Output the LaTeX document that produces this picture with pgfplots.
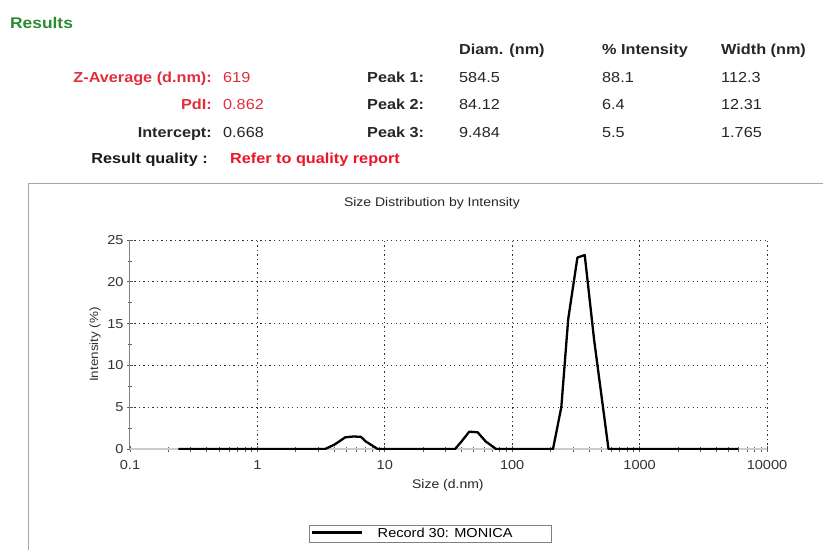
\documentclass[border=0pt]{standalone}
\usepackage{fontspec}
\setmainfont{Liberation Sans}[FakeStretch=1.12]
\usepackage{pgfplots}
\pgfplotsset{compat=1.18}
\definecolor{resgreen}{RGB}{40,140,50}
\definecolor{zred}{RGB}{225,45,60}
\definecolor{qred}{RGB}{235,20,40}
\newcommand\fs[1]{\fontsize{#1}{#1}\selectfont}
\begin{document}
\begin{tikzpicture}
\useasboundingbox (0pt,0pt) rectangle (823pt,-550pt);
\fill[white] (0pt,0pt) rectangle (823pt,-550pt);
\begin{scope}[every node/.style={inner sep=0pt}]
\node[anchor=base west, text=resgreen, font=\bfseries\fs{15.5}] at (10pt,-28pt) {Results};
% headers
\node[anchor=base west, font=\bfseries\fs{14.5}, text=black!85] at (459pt,-54pt) {Diam. (nm)};
\node[anchor=base west, font=\bfseries\fs{14.5}, text=black!85] at (602pt,-54pt) {\% Intensity};
\node[anchor=base west, font=\bfseries\fs{14.5}, text=black!85] at (721pt,-54pt) {Width (nm)};
% left block
\node[anchor=base east, font=\bfseries\fs{14.5}, text=zred] at (212pt,-82pt) {Z-Average (d.nm):};
\node[anchor=base east, font=\bfseries\fs{14.5}, text=zred] at (212pt,-109pt) {PdI:};
\node[anchor=base east, font=\bfseries\fs{14.5}, text=black!85] at (212pt,-137pt) {Intercept:};
\node[anchor=base east, font=\bfseries\fs{14.5}, text=black!90] at (208pt,-163pt) {Result quality :};
\node[anchor=base west, font=\fs{14.5}, text=zred] at (223pt,-82pt) {619};
\node[anchor=base west, font=\fs{14.5}, text=zred] at (223pt,-109pt) {0.862};
\node[anchor=base west, font=\fs{14.5}, text=black!85] at (223pt,-137pt) {0.668};
\node[anchor=base west, font=\bfseries\fs{14.5}, text=qred] at (230pt,-163pt) {Refer to quality report};
% peaks
\node[anchor=base west, font=\bfseries\fs{14.5}, text=black!85] at (367pt,-82pt) {Peak 1:};
\node[anchor=base west, font=\bfseries\fs{14.5}, text=black!85] at (367pt,-109pt) {Peak 2:};
\node[anchor=base west, font=\bfseries\fs{14.5}, text=black!85] at (367pt,-137pt) {Peak 3:};
\node[anchor=base west, font=\fs{14.5}, text=black!85] at (459pt,-82pt) {584.5};
\node[anchor=base west, font=\fs{14.5}, text=black!85] at (459pt,-109pt) {84.12};
\node[anchor=base west, font=\fs{14.5}, text=black!85] at (459pt,-137pt) {9.484};
\node[anchor=base west, font=\fs{14.5}, text=black!85] at (602pt,-82pt) {88.1};
\node[anchor=base west, font=\fs{14.5}, text=black!85] at (602pt,-109pt) {6.4};
\node[anchor=base west, font=\fs{14.5}, text=black!85] at (602pt,-137pt) {5.5};
\node[anchor=base west, font=\fs{14.5}, text=black!85] at (721pt,-82pt) {112.3};
\node[anchor=base west, font=\fs{14.5}, text=black!85] at (721pt,-109pt) {12.31};
\node[anchor=base west, font=\fs{14.5}, text=black!85] at (721pt,-137pt) {1.765};
\end{scope}
\draw[gray!70, line width=0.8pt] (28pt,-550pt) -- (28pt,-183pt) -- (823pt,-183pt);
\begin{axis}[
  at={(130pt,-449pt)}, anchor=south west,
  scale only axis, width=637pt, height=209pt,
  xmode=log, xmin=0.1, xmax=10000, ymin=0, ymax=25,
  axis x line*=bottom, axis y line*=left,
  x axis line style={-, draw=gray!40, line width=1.6pt},
  y axis line style={-, draw=gray, line width=1pt},
  xtick={0.1,1,10,100,1000,10000},
  xticklabels={0.1,1,10,100,1000,10000},
  ytick={0,5,10,15,20,25},
  minor y tick num=1,
  grid=major,
  major grid style={black!80, line width=1pt, dash pattern=on 1.2pt off 3.3pt},
  tick align=center,
  major tick length=6pt, minor tick length=5pt,
  tick style={black!65, line width=0.8pt},
  ticklabel style={font=\fs{13}, text=black!80},
  xticklabel style={yshift=-5pt},
  /pgf/number format/assume math mode=true,
  title={Size Distribution by Intensity},
  title style={at={(axis description cs:0.474,1.149)}, anchor=center, yshift=0pt, font=\fs{12.5}, text=black!85},
  xlabel={Size (d.nm)},
  xlabel style={at={(axis description cs:0.499,-0.175)}, anchor=center, font=\fs{12.5}, text=black!85},
  ylabel={Intensity (\%)},
  ylabel style={at={(axis description cs:-0.055,0.5)}, anchor=center, font=\fs{12}, text=black!80},
  legend style={at={(0.4717,-0.404)}, anchor=center, draw=gray, line width=0.8pt, font=\fs{13}, inner sep=1pt},
  legend image code/.code={\draw[black, line width=2.4pt] (0pt,1pt) -- (50pt,1pt);},
]
\addplot[black, line width=2.3pt, line join=round] coordinates {
 (0.24,0) (3.4,0) (4.0,0.5) (4.9,1.4) (5.7,1.5) (6.5,1.45) (7.1,0.9) (8.8,0)
 (35.6,0) (40,0.9) (46,2.07) (53.5,2.0) (62,0.9) (74.8,0)
 (209,0) (243,5) (275,15.5) (325,22.9) (371,23.2) (440,13) (570,0) (6000,0)
};
\addlegendentry{\hspace*{13pt}Record 30: MONICA\hspace*{36pt}}
\end{axis}
\end{tikzpicture}
\end{document}
